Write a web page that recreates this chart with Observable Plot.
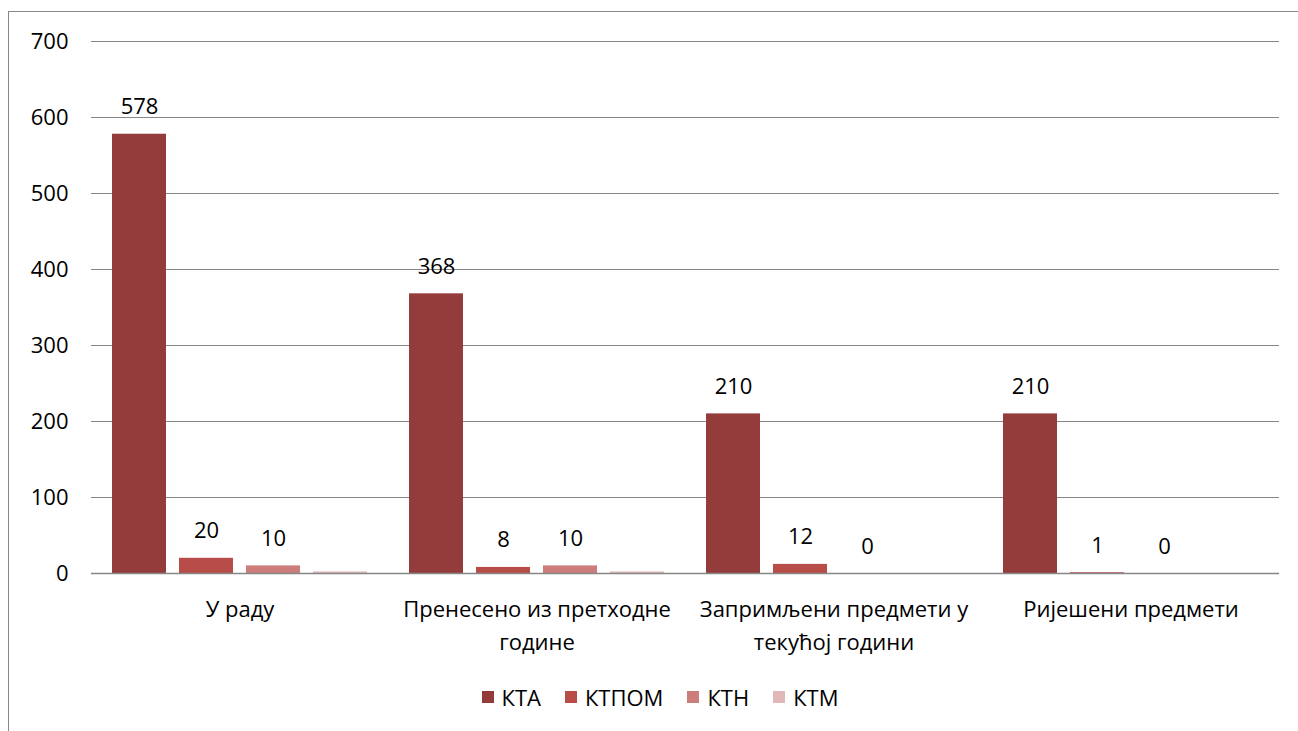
<!DOCTYPE html>
<html>
<head>
<meta charset="utf-8">
<script src="https://cdn.jsdelivr.net/npm/d3@7"></script>
<script src="https://cdn.jsdelivr.net/npm/@observablehq/plot@0.6"></script>
<style>
  html, body { margin: 0; padding: 0; background: #fff; }
  body { width: 1298px; height: 731px; position: relative; overflow: hidden; font-family: "Open Sans", sans-serif; }
  #frame { position: absolute; left: 8px; top: 11px; width: 1400px; height: 800px; border: 1.5px solid #888; box-sizing: border-box; pointer-events: none; }
  #chart { position: absolute; left: 0; top: 0; }
  #legend { position: absolute; left: 0; top: 680px; width: 1298px; height: 34px; display: flex; justify-content: center; align-items: center; font-size: 22px; color: #000; padding-left: 22px; box-sizing: border-box; }
  .item { display: flex; align-items: center; margin: 0 12px; }
  .sw { width: 12px; height: 12px; margin-right: 8px; }
</style>
</head>
<body>
<div id="chart"></div>
<div id="legend"></div>
<div id="frame"></div>
<script>
const categories = ["У раду", "Пренесено из претходне године", "Запримљени предмети у текућој години", "Ријешени предмети"];
const categoryLabels = ["У раду", "Пренесено из претходне\nгодине", "Запримљени предмети у\nтекућој години", "Ријешени предмети"];
const series = ["КТА", "КТПОМ", "КТН", "КТМ"];
const colors = ["#943C3B", "#B84C49", "#CC7C7A", "#E0B8B7"];
const valuesKTA = [578, 368, 210, 210];
const valuesKTPOM = [20, 8, 12, 1];
const valuesKTN = [10, 10, 0, 0];
const valuesKTM = [2, 2, null, null];
const showLabel = [true, true, true, false];
const yTicks = [0, 100, 200, 300, 400, 500, 600, 700];

const seriesValues = [valuesKTA, valuesKTPOM, valuesKTN, valuesKTM];
const data = [];
categories.forEach((c, i) => {
  series.forEach((s, j) => {
    data.push({cat: c, series: s, value: seriesValues[j][i], label: showLabel[j] && seriesValues[j][i] != null ? String(seriesValues[j][i]) : null});
  });
});

const plot = Plot.plot({
  width: 1298,
  height: 680,
  marginTop: 41,
  marginBottom: 107,
  marginLeft: 90,
  marginRight: 18,
  style: {fontFamily: "Open Sans, sans-serif", fontSize: "22px", color: "#000", background: "transparent"},
  fx: {domain: categories, padding: 0, label: null},
  x: {domain: series, paddingInner: 0.2, paddingOuter: 0.3, axis: null},
  y: {domain: [0, 700], ticks: yTicks, label: null},
  color: {domain: series, range: colors},
  marks: [
    Plot.gridY(yTicks, {stroke: "#868686", strokeOpacity: 1, strokeWidth: 1}),
    Plot.axisY(yTicks, {tickSize: 0, tickPadding: 23, fontSize: 22, label: null, fill: "#000"}),
    Plot.axisFx({anchor: "bottom", tickSize: 0, tickPadding: 20, fontSize: 22, lineHeight: 1.5, label: null, fill: "#000",
      tickFormat: d => categoryLabels[categories.indexOf(d)]}),
    Plot.barY(data.filter(d => d.value != null), {fx: "cat", x: "series", y: "value", fill: "series", insetLeft: 0, insetRight: 0}),
    Plot.ruleY([0], {stroke: "#868686", strokeWidth: 1.5}),
    Plot.text(data.filter(d => d.label != null), {fx: "cat", x: "series", y: "value", text: "label", dy: -27, fontSize: 22, fill: "#000"})
  ]
});
document.getElementById("chart").appendChild(plot);

const legend = document.getElementById("legend");
series.forEach((s, i) => {
  const it = document.createElement("div");
  it.className = "item";
  const sw = document.createElement("div");
  sw.className = "sw";
  sw.style.background = colors[i];
  const t = document.createElement("span");
  t.textContent = s;
  it.appendChild(sw);
  it.appendChild(t);
  legend.appendChild(it);
});
</script>
</body>
</html>
